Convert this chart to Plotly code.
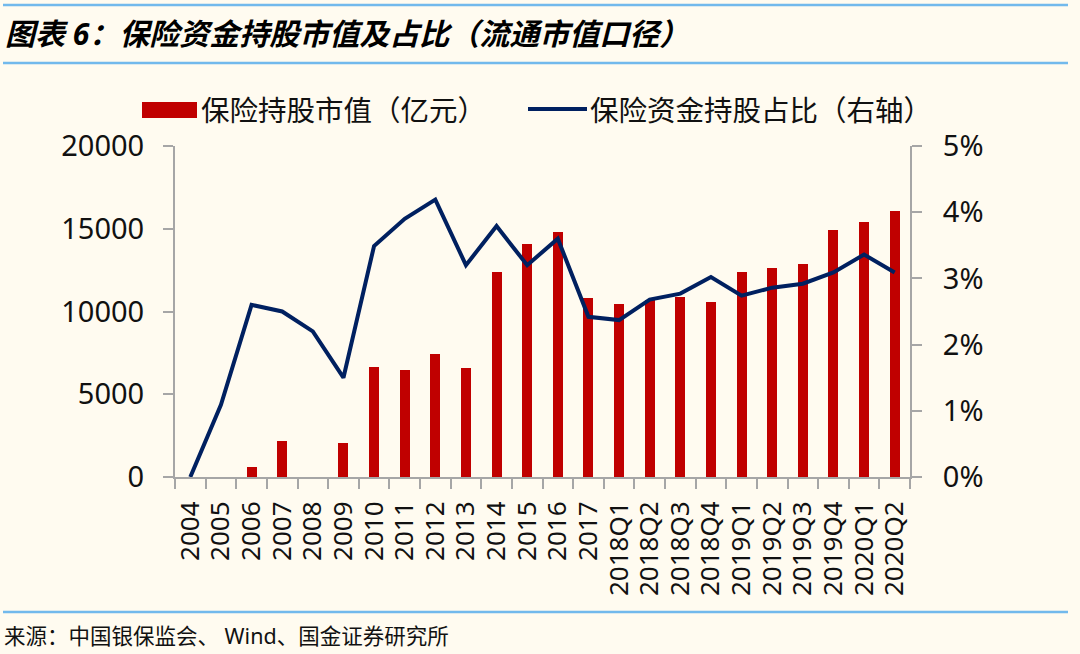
"""Insurance fund equity holdings: market value and share of float cap."""
import plotly.graph_objects as go

COLORS = {
    "bar": "#C00000",
    "line": "#002060",
    "axis": "#A6A6A6",
    "rule": "#72B9EC",
    "bg": "#FFFBF0",
    "text": "#111111",
}

FONT = "Noto Sans, Noto Sans CJK SC, sans-serif"

# data
periods = [
    "2004", "2005", "2006", "2007", "2008", "2009", "2010", "2011", "2012",
    "2013", "2014", "2015", "2016", "2017",
    "2018Q1", "2018Q2", "2018Q3", "2018Q4",
    "2019Q1", "2019Q2", "2019Q3", "2019Q4",
    "2020Q1", "2020Q2",
]
holding_value = [
    None, None, 620, 2180, None, 2040, 6650, 6490, 7410,
    6570, 12370, 14100, 14790, 10800,
    10450, 10700, 10900, 10600,
    12370, 12610, 12890, 14920,
    15390, 16070,
]
holding_share = [
    0.0, 1.09, 2.60, 2.50, 2.20, 1.50, 3.49, 3.90, 4.19,
    3.20, 3.79, 3.20, 3.60, 2.42,
    2.37, 2.68, 2.77, 3.02,
    2.74, 2.86, 2.92, 3.09,
    3.36, 3.09,
]
left_ticks = [0, 5000, 10000, 15000, 20000]
right_ticks = [0, 0.01, 0.02, 0.03, 0.04, 0.05]

title_text = "图表 6：保险资金持股市值及占比（流通市值口径）"
bar_name = "保险持股市值（亿元）"
line_name = "保险资金持股占比（右轴）"
source_text = "来源：中国银保监会、 Wind、国金证券研究所"

# plot area in pixels
W, H = 1080, 654
L, R, T, B = 175, 910, 146, 477


def px(x):
    return (x - L) / (R - L)


def py(y):
    return (B - y) / (B - T)


fig = go.Figure()
fig.add_trace(go.Bar(
    x=periods,
    y=holding_value,
    name=bar_name,
    marker=dict(color=COLORS["bar"], line=dict(width=0)),
    width=0.33,
    showlegend=False,
))
fig.add_trace(go.Scatter(
    x=periods,
    y=[v / 100 for v in holding_share],
    name=line_name,
    mode="lines",
    line=dict(color=COLORS["line"], width=4),
    yaxis="y2",
    showlegend=False,
))

axis_common = dict(
    showgrid=False,
    zeroline=False,
    showline=True,
    linecolor=COLORS["axis"],
    linewidth=2,
    ticks="outside",
    ticklen=10,
    tickwidth=2,
    tickcolor=COLORS["axis"],
)

fig.update_layout(
    width=W,
    height=H,
    margin=dict(l=L, r=W - R, t=T, b=H - B),
    plot_bgcolor=COLORS["bg"],
    paper_bgcolor=COLORS["bg"],
    font=dict(family=FONT, color=COLORS["text"]),
    bargap=0,
    xaxis=dict(
        type="category",
        tickson="boundaries",
        tickmode="array",
        tickvals=periods,
        ticktext=periods,
        tickangle=-90,
        tickfont=dict(size=26),
        ticklabelstandoff=12,
        **axis_common,
    ),
    yaxis=dict(
        range=[0, 20000],
        tickvals=left_ticks,
        ticktext=[str(v) for v in left_ticks],
        tickfont=dict(size=29),
        ticklabelstandoff=13,
        **axis_common,
    ),
    yaxis2=dict(
        range=[0, 0.05],
        overlaying="y",
        side="right",
        tickvals=right_ticks,
        tickformat=".0%",
        tickfont=dict(size=29),
        ticklabelstandoff=15,
        **axis_common,
    ),
)

# horizontal rules above/below title and above source
shapes = []
for y in (5, 63, 612):
    shapes.append(dict(
        type="line", xref="paper", yref="paper",
        x0=px(3), x1=px(1068), y0=py(y), y1=py(y),
        line=dict(color=COLORS["rule"], width=2.5),
    ))
# custom legend keys
shapes.append(dict(
    type="rect", xref="paper", yref="paper",
    x0=px(142), x1=px(197), y0=py(118), y1=py(102),
    fillcolor=COLORS["bar"], line=dict(width=0),
))
shapes.append(dict(
    type="line", xref="paper", yref="paper",
    x0=px(528), x1=px(587), y0=py(109), y1=py(109),
    line=dict(color=COLORS["line"], width=4),
))
fig.update_layout(shapes=shapes)

fig.add_annotation(
    text=title_text, xref="paper", yref="paper",
    x=px(3), y=py(34), xanchor="left", yanchor="middle", showarrow=False,
    font=dict(size=30, weight="bold", style="italic", color="#000000"),
)
fig.add_annotation(
    text=bar_name, xref="paper", yref="paper",
    x=px(199), y=py(110), xanchor="left", yanchor="middle", showarrow=False,
    font=dict(size=28.5),
)
fig.add_annotation(
    text=line_name, xref="paper", yref="paper",
    x=px(588), y=py(110), xanchor="left", yanchor="middle", showarrow=False,
    font=dict(size=28.5),
)
fig.add_annotation(
    text=source_text, xref="paper", yref="paper",
    x=px(2), y=py(635), xanchor="left", yanchor="middle", showarrow=False,
    font=dict(size=21.5),
)

# drop the default page margin so the figure fills the window
fig.write_html(
    "out.html",
    config={"displayModeBar": False},
    post_script="document.body.style.margin='0';"
                "document.body.style.background='" + COLORS["bg"] + "';",
)
